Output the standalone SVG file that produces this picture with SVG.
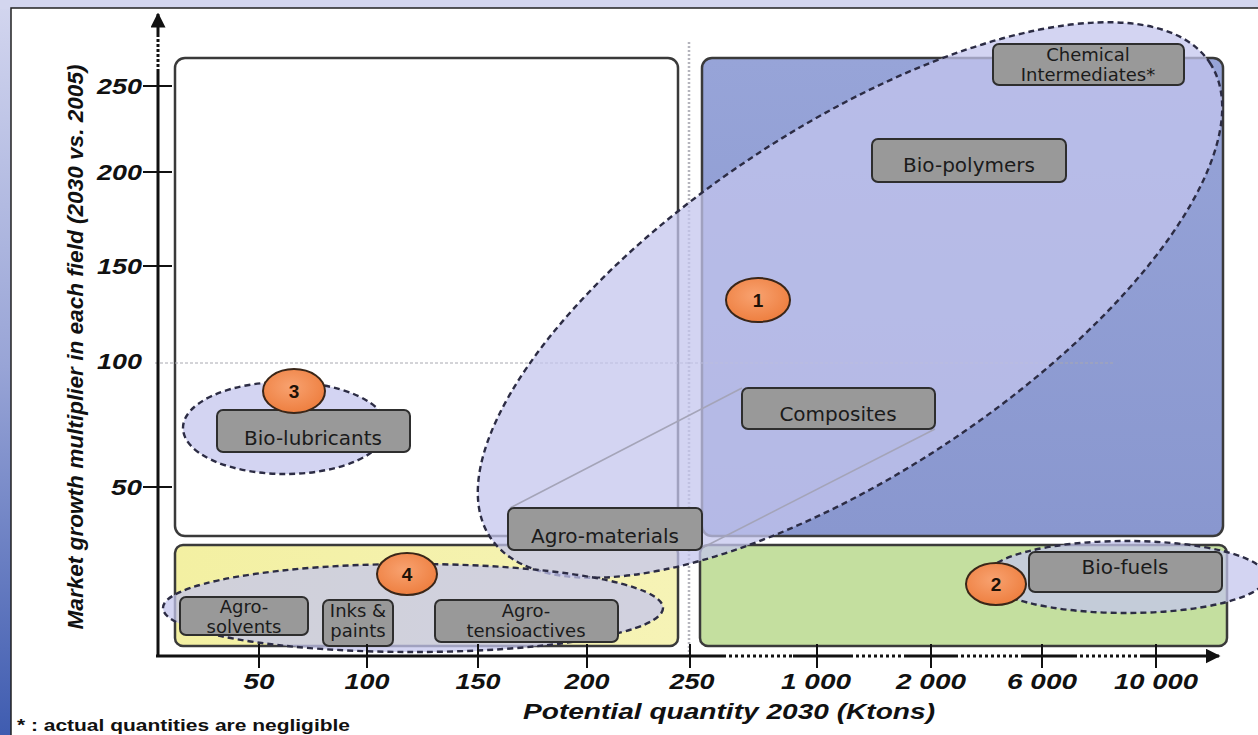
<svg xmlns="http://www.w3.org/2000/svg" width="1258" height="735" viewBox="0 0 1258 735">
  <defs>
    <linearGradient id="frameGrad" x1="0" y1="0" x2="0" y2="1">
      <stop offset="0" stop-color="#d3d6ef"/>
      <stop offset="0.5" stop-color="#98a4d6"/>
      <stop offset="1" stop-color="#3f5cb0"/>
    </linearGradient>
    <linearGradient id="blueGrad" x1="0" y1="0" x2="0" y2="1">
      <stop offset="0" stop-color="#97a4d8"/>
      <stop offset="1" stop-color="#8997cf"/>
    </linearGradient>
    <linearGradient id="yellowGrad" x1="0" y1="0" x2="1" y2="0">
      <stop offset="0" stop-color="#f3f0a2"/>
      <stop offset="1" stop-color="#f6f3b6"/>
    </linearGradient>
    <radialGradient id="orangeGrad" cx="0.45" cy="0.4" r="0.6">
      <stop offset="0" stop-color="#f8a270"/>
      <stop offset="1" stop-color="#ee7f40"/>
    </radialGradient>
    <marker id="arrowHead" viewBox="0 0 10 10" refX="9" refY="5" markerWidth="5" markerHeight="5" orient="auto">
      <path d="M0,0 L10,5 L0,10 z" fill="#111"/>
    </marker>
    <style>
      .zone { stroke: #3a3a3a; stroke-width: 2.5; }
      .group { fill: #c4c5ee; fill-opacity: 0.74; stroke: #2c2c44; stroke-width: 2.4; stroke-dasharray: 6 4; }
      .label rect { fill: #999999; stroke: #2e2e2e; stroke-width: 2; }
      .label text { font-family: "DejaVu Sans", "Noto Sans", sans-serif; font-size: 20px; fill: #1b1b1b; text-anchor: middle; }
      .label text.two { font-size: 18px; }
      .badge ellipse { fill: url(#orangeGrad); stroke: #3a2618; stroke-width: 2; }
      .badge text { font-family: "Liberation Sans", Arial, sans-serif; font-weight: bold; font-size: 19px; fill: #1e1208; text-anchor: middle; }
      .tick { font-family: "Liberation Sans", Arial, sans-serif; font-weight: bold; font-style: italic; font-size: 22px; fill: #111; }
      .axis { stroke: #111; stroke-width: 3; fill: none; }
      .guide { stroke: #a8a8b0; stroke-width: 1; fill: none; }
      .link { stroke: #a4a4b8; stroke-width: 1.5; fill: none; }
    </style>
  </defs>

  <!-- slide frame and white panel -->
  <rect x="0" y="0" width="1258" height="735" fill="url(#frameGrad)"/>
  <rect x="0" y="0" width="1258" height="9" fill="#d3d6ef"/>
  <rect x="11" y="8" width="1250" height="730" fill="#ffffff" stroke="#222" stroke-width="1.5"/>

  <!-- quadrant zones -->
  <g id="zone-top-left"><rect class="zone" x="175" y="58" width="503" height="478" rx="10" fill="#ffffff"/></g>
  <g id="zone-top-right"><rect class="zone" x="702" y="58" width="521" height="478" rx="10" fill="url(#blueGrad)"/></g>
  <g id="zone-bottom-left"><rect class="zone" x="175" y="545" width="503" height="101" rx="8" fill="url(#yellowGrad)"/></g>
  <g id="zone-bottom-right"><rect class="zone" x="700" y="545" width="527" height="101" rx="8" fill="#c4df9f"/></g>

  <!-- guide lines -->
  <line class="guide" x1="155" y1="363" x2="1115" y2="363" stroke-dasharray="3 2"/>
  <line x1="689" y1="42" x2="689" y2="656" stroke="#b4b4bc" stroke-width="2.5" stroke-dasharray="2 2"/>

  <!-- groupings -->
  <g id="group-1"><ellipse class="group" cx="850" cy="300" rx="431" ry="173" transform="rotate(-33.4 850 300)"/></g>
  <g id="group-2"><ellipse class="group" cx="1126" cy="577" rx="140" ry="36"/></g>
  <g id="group-3"><ellipse class="group" cx="285" cy="428" rx="102" ry="46"/></g>
  <g id="group-4"><ellipse class="group" cx="413" cy="608" rx="250" ry="44"/></g>

  <!-- connectors -->
  <g id="connectors">
    <line class="link" x1="510" y1="508" x2="742" y2="388"/>
    <line class="link" x1="702" y1="548" x2="935" y2="429"/>
  </g>

  <!-- market labels -->
  <g id="chemical-intermediates" class="label">
    <rect x="993" y="44" width="191" height="41" rx="6"/>
    <text class="two" x="1088" y="61">Chemical</text>
    <text class="two" x="1088" y="81">Intermediates*</text>
  </g>
  <g id="bio-polymers" class="label">
    <rect x="872" y="139" width="194" height="43" rx="6"/>
    <text x="969" y="172">Bio-polymers</text>
  </g>
  <g id="composites" class="label">
    <rect x="742" y="388" width="193" height="41" rx="6"/>
    <text x="838" y="421">Composites</text>
  </g>
  <g id="agro-materials" class="label">
    <rect x="508" y="508" width="194" height="42" rx="6"/>
    <text x="605" y="543">Agro-materials</text>
  </g>
  <g id="bio-lubricants" class="label">
    <rect x="217" y="410" width="193" height="42" rx="6"/>
    <text x="313" y="445">Bio-lubricants</text>
  </g>
  <g id="bio-fuels" class="label">
    <rect x="1029" y="552" width="193" height="40" rx="6"/>
    <text x="1125" y="574">Bio-fuels</text>
  </g>
  <g id="agro-solvents" class="label">
    <rect x="180" y="597" width="128" height="38" rx="6"/>
    <text class="two" x="244" y="613">Agro-</text>
    <text class="two" x="244" y="633">solvents</text>
  </g>
  <g id="inks-paints" class="label">
    <rect x="323" y="600" width="70" height="46" rx="6"/>
    <text class="two" x="358" y="617">Inks &amp;</text>
    <text class="two" x="358" y="637">paints</text>
  </g>
  <g id="agro-tensioactives" class="label">
    <rect x="435" y="600" width="183" height="42" rx="6"/>
    <text class="two" x="526" y="617">Agro-</text>
    <text class="two" x="526" y="637">tensioactives</text>
  </g>

  <!-- numbered badges -->
  <g id="badge-1" class="badge"><ellipse cx="758" cy="300" rx="32" ry="22"/><text x="758" y="307">1</text></g>
  <g id="badge-2" class="badge"><ellipse cx="996" cy="584" rx="30" ry="21"/><text x="996" y="591">2</text></g>
  <g id="badge-3" class="badge"><ellipse cx="294" cy="391" rx="31" ry="22"/><text x="294" y="398">3</text></g>
  <g id="badge-4" class="badge"><ellipse cx="407" cy="574" rx="30" ry="21"/><text x="407" y="581">4</text></g>

  <!-- axes -->
  <g id="axes">
    <line class="axis" x1="158" y1="657" x2="158" y2="72"/>
    <line class="axis" x1="158" y1="72" x2="158" y2="33" stroke-dasharray="3 2"/>
    <line class="axis" x1="158" y1="34" x2="158" y2="14" marker-end="url(#arrowHead)"/>
    <line class="axis" x1="156" y1="656" x2="723" y2="656"/>
    <line class="axis" x1="723" y1="656" x2="793" y2="656" stroke-dasharray="3 3"/>
    <line class="axis" x1="793" y1="656" x2="850" y2="656"/>
    <line class="axis" x1="850" y1="656" x2="907" y2="656" stroke-dasharray="3 3"/>
    <line class="axis" x1="907" y1="656" x2="955" y2="656"/>
    <line class="axis" x1="955" y1="656" x2="1021" y2="656" stroke-dasharray="3 3"/>
    <line class="axis" x1="1021" y1="656" x2="1074" y2="656"/>
    <line class="axis" x1="1074" y1="656" x2="1140" y2="656" stroke-dasharray="3 3"/>
    <line class="axis" x1="1140" y1="656" x2="1219" y2="656" marker-end="url(#arrowHead)"/>
    <g stroke="#111" stroke-width="2">
      <line x1="143" y1="86" x2="172" y2="86"/>
      <line x1="143" y1="172" x2="172" y2="172"/>
      <line x1="143" y1="266" x2="172" y2="266"/>
      <line x1="143" y1="487" x2="172" y2="487"/>
      <line x1="259" y1="644" x2="259" y2="668"/>
      <line x1="367" y1="644" x2="367" y2="668"/>
      <line x1="478" y1="644" x2="478" y2="668"/>
      <line x1="587" y1="644" x2="587" y2="668"/>
      <line x1="690" y1="644" x2="690" y2="668"/>
      <line x1="817" y1="644" x2="817" y2="668"/>
      <line x1="931" y1="644" x2="931" y2="668"/>
      <line x1="1042" y1="644" x2="1042" y2="668"/>
      <line x1="1156" y1="644" x2="1156" y2="668"/>
    </g>
    <g class="tick" text-anchor="end">
      <text x="142" y="94" textLength="45" lengthAdjust="spacingAndGlyphs">250</text>
      <text x="142" y="180" textLength="45" lengthAdjust="spacingAndGlyphs">200</text>
      <text x="142" y="274" textLength="45" lengthAdjust="spacingAndGlyphs">150</text>
      <text x="142" y="369" textLength="45" lengthAdjust="spacingAndGlyphs">100</text>
      <text x="142" y="495" textLength="31" lengthAdjust="spacingAndGlyphs">50</text>
    </g>
    <g class="tick" text-anchor="middle">
      <text x="259" y="689" textLength="31" lengthAdjust="spacingAndGlyphs">50</text>
      <text x="367" y="689" textLength="45" lengthAdjust="spacingAndGlyphs">100</text>
      <text x="478" y="689" textLength="45" lengthAdjust="spacingAndGlyphs">150</text>
      <text x="587" y="689" textLength="45" lengthAdjust="spacingAndGlyphs">200</text>
      <text x="692" y="689" textLength="45" lengthAdjust="spacingAndGlyphs">250</text>
      <text x="816" y="689" textLength="70" lengthAdjust="spacingAndGlyphs">1 000</text>
      <text x="931" y="689" textLength="70" lengthAdjust="spacingAndGlyphs">2 000</text>
      <text x="1042" y="689" textLength="70" lengthAdjust="spacingAndGlyphs">6 000</text>
      <text x="1156" y="689" textLength="84" lengthAdjust="spacingAndGlyphs">10 000</text>
    </g>
    <text class="tick" x="729" y="719" text-anchor="middle" font-size="23" textLength="412" lengthAdjust="spacingAndGlyphs">Potential quantity 2030 (Ktons)</text>
    <text class="tick" x="0" y="0" text-anchor="middle" font-size="21" textLength="565" lengthAdjust="spacingAndGlyphs" transform="translate(83 347) rotate(-90)">Market growth multiplier in each field (2030 vs. 2005)</text>
  </g>

  <!-- footnote -->
  <text x="17" y="731" font-family="Liberation Sans, Arial, sans-serif" font-weight="bold" font-size="16" fill="#111" textLength="333" lengthAdjust="spacingAndGlyphs">* : actual quantities are negligible</text>
</svg>
